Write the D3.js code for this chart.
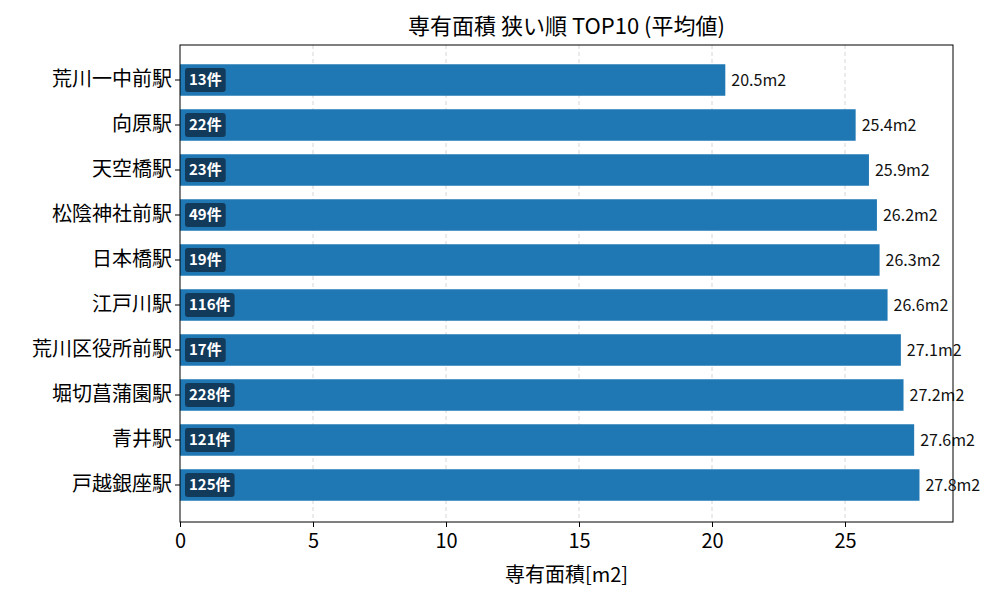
<!DOCTYPE html>
<html><head><meta charset="utf-8">
<script src="https://cdn.jsdelivr.net/npm/d3@7"></script>
<style>body{margin:0;background:#fff}text{font-family:"Noto Sans CJK JP",sans-serif}</style>
</head><body><svg id="c" width="1000" height="600"></svg>
<script>
const stations=["荒川一中前駅","向原駅","天空橋駅","松陰神社前駅","日本橋駅","江戸川駅","荒川区役所前駅","堀切菖蒲園駅","青井駅","戸越銀座駅"];
const areas=[20.5,25.4,25.9,26.2,26.3,26.6,27.1,27.2,27.6,27.8];
const counts=[13,22,23,49,19,116,17,228,121,125];
const xTicks=[0,5,10,15,20,25];
const svg=d3.select("#c");
const L=180,R=953,T=45,B=522;
const x=d3.scaleLinear().domain([0,29.06]).range([L,R]);
const y=d3.scaleBand().domain(stations).range([57.5,507.5]).paddingInner(0.3).paddingOuter(0.15);
svg.append("g").selectAll("line").data(xTicks.slice(1)).join("line")
 .attr("x1",d=>x(d)).attr("x2",d=>x(d)).attr("y1",T).attr("y2",B)
 .attr("stroke","#ccc").attr("stroke-dasharray","4,3").attr("stroke-width",0.8);
svg.append("g").selectAll("rect").data(stations).join("rect")
 .attr("x",x(0)).attr("y",d=>y(d)).attr("height",y.bandwidth())
 .attr("width",(d,i)=>x(areas[i])-x(0)).attr("fill","#1f77b4");
const bg=svg.append("g").selectAll("g").data(stations).join("g")
 .attr("transform",d=>`translate(${x(0)+5},${y(d)+y.bandwidth()/2})`);
bg.append("text").attr("x",4).attr("dy","0.35em").attr("fill","#fff").attr("font-weight","bold").attr("font-size",15)
 .text((d,i)=>counts[i]+"件").each(function(){
   const w=this.getComputedTextLength();
   d3.select(this.parentNode).insert("rect","text").attr("x",0).attr("y",-12).attr("width",w+8).attr("height",24).attr("rx",3).attr("fill","#123a5a");
 });
svg.append("g").selectAll("text").data(stations).join("text")
 .attr("x",(d,i)=>x(areas[i])+6).attr("y",d=>y(d)+y.bandwidth()/2).attr("dy","0.35em")
 .attr("font-size",16).attr("fill","#111").text((d,i)=>areas[i].toFixed(1)+"m2");
svg.append("rect").attr("x",L).attr("y",T).attr("width",R-L).attr("height",B-T).attr("fill","none").attr("stroke","#000").attr("stroke-width",1);
const xa=svg.append("g").attr("transform",`translate(0,${B})`).call(d3.axisBottom(x).tickValues(xTicks).tickSize(5).tickSizeOuter(0));
xa.select(".domain").remove();
xa.selectAll("text").attr("font-size",20).attr("fill","#000").attr("dy","0.9em").style("font-family","'Noto Sans CJK JP'");
const ya=svg.append("g").attr("transform",`translate(${L},0)`).call(d3.axisLeft(y).tickSize(5).tickSizeOuter(0));
ya.select(".domain").remove();
ya.selectAll("text").attr("font-size",20).attr("fill","#000").style("font-family","'Noto Sans CJK JP'");
svg.append("text").attr("x",(L+R)/2).attr("y",34).attr("text-anchor","middle").attr("font-size",22).text("専有面積 狭い順 TOP10 (平均値)");
svg.append("text").attr("x",(L+R)/2).attr("y",582).attr("text-anchor","middle").attr("font-size",20).text("専有面積[m2]");
</script></body></html>
